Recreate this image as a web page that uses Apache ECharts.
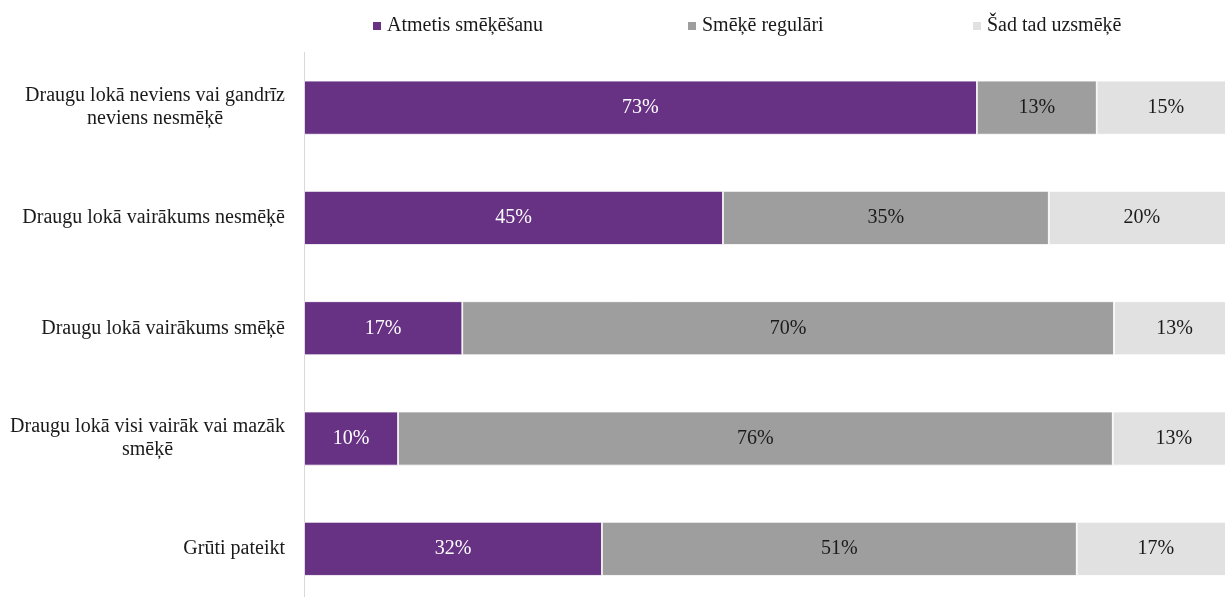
<!DOCTYPE html>
<html>
<head>
<meta charset="utf-8">
<script src="https://cdn.jsdelivr.net/npm/echarts@6/dist/echarts.min.js"></script>
<style>
  html, body { margin: 0; padding: 0; background: #fff; }
  #chart { width: 1225px; height: 597px; }
</style>
</head>
<body>
<div id="chart"></div>
<script>
// Survey groups (rows, top to bottom)
const categories = [
  'Draugu lokā neviens vai gandrīz\nneviens nesmēķē',
  'Draugu lokā vairākums nesmēķē',
  'Draugu lokā vairākums smēķē',
  'Draugu lokā visi vairāk vai mazāk\nsmēķē',
  'Grūti pateikt'
];

const seriesNames = ['Atmetis smēķēšanu', 'Smēķē regulāri', 'Šad tad uzsmēķē'];

// Shares in percent per row
const quitValues    = [73, 45, 17, 10, 32];
const regularValues = [13, 35, 70, 76, 51];
const sometimesValues = [15, 20, 13, 13, 17];

const colors = ['#673284', '#9e9e9e', '#e1e1e1'];
const labelColors = ['#ffffff', '#1a1a1a', '#1a1a1a'];

const rowTotals = categories.map((_, i) => quitValues[i] + regularValues[i] + sometimesValues[i]);
const FONT = '"Liberation Serif", "Times New Roman", serif';
const FONT_SIZE = 20;

// Each row is scaled to 100 % (as in a 100 % stacked bar); labels show the stated value
function buildSeries(name, values, idx) {
  return {
    name: name,
    type: 'bar',
    stack: 'total',
    barWidth: 54,
    itemStyle: { color: colors[idx], borderColor: '#ffffff', borderWidth: 0.8 },
    label: {
      show: true,
      position: 'inside',
      color: labelColors[idx],
      fontFamily: FONT,
      fontSize: FONT_SIZE,
      formatter: p => values[p.dataIndex] + '%'
    },
    emphasis: { disabled: true },
    data: values.map((v, i) => v / rowTotals[i] * 100)
  };
}

// One legend block per series so each entry sits at its own spot along the top
const legendLefts = [366, 681, 966];
function buildLegend(name, i) {
  return {
    top: 11,
    left: legendLefts[i],
    itemWidth: 10,
    itemHeight: 10,
    icon: 'rect',
    textStyle: { fontFamily: FONT, fontSize: FONT_SIZE, color: '#1a1a1a' },
    data: [name]
  };
}

const chart = echarts.init(document.getElementById('chart'), null, { renderer: 'canvas' });

chart.setOption({
  animation: false,
  backgroundColor: '#ffffff',
  textStyle: { fontFamily: FONT },
  legend: seriesNames.map(buildLegend),
  grid: {
    left: 304, right: -10, top: 52.5, bottom: -7,
    containLabel: false,
    outerBoundsMode: 'none'
  },
  xAxis: {
    type: 'value',
    min: 0,
    max: 100,
    show: false
  },
  yAxis: {
    type: 'category',
    inverse: true,
    data: categories,
    axisLine: { show: true, lineStyle: { color: '#d9d9d9', width: 1 } },
    axisTick: { show: false },
    axisLabel: {
      margin: 19,
      align: 'right',
      fontFamily: FONT,
      fontSize: FONT_SIZE,
      color: '#1a1a1a',
      lineHeight: 23,
      formatter: v => v.split('\n').map(s => '{c|' + s + '}').join('\n'),
      rich: {
        c: { align: 'center', fontFamily: FONT, fontSize: FONT_SIZE, color: '#1a1a1a', lineHeight: 23 }
      }
    }
  },
  series: [
    buildSeries(seriesNames[0], quitValues, 0),
    buildSeries(seriesNames[1], regularValues, 1),
    buildSeries(seriesNames[2], sometimesValues, 2)
  ]
});
</script>
</body>
</html>
